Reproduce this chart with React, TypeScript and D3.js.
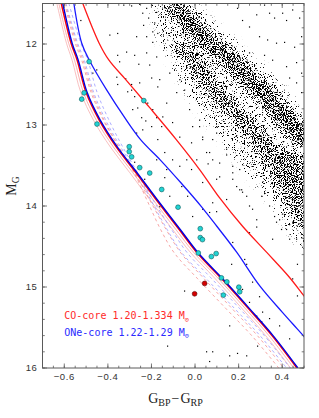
import React from 'react';
import * as d3 from 'd3';

const WIDTH = 319;
const HEIGHT = 418;
const plot = { left: 42.5, right: 304, top: 3.5, bottom: 368 };

// axes
const xTicks = [-0.6, -0.4, -0.2, 0, 0.2, 0.4];
const xTickLabels = ['−0.6', '−0.4', '−0.2', '0.0', '0.2', '0.4'];
const yTicks = [12, 13, 14, 15, 16];

const bandMag = [11.5, 11.75, 12.0, 12.25, 12.5, 12.75, 13.0, 13.25, 13.5, 13.75, 14.0, 14.25, 14.5];
const bandLeft = [-0.21, -0.185, -0.158, -0.107, -0.057, -0.002, 0.067, 0.14, 0.209, 0.283, 0.36, 0.42, 0.48];
const bandRight = [0.0, 0.09, 0.2, 0.3, 0.39, 0.47, 0.55, 0.55, 0.55, 0.55, 0.55, 0.55, 0.55];

const ridgeAMag = [11.5, 11.75, 12.0, 12.25, 12.5, 12.75, 13.0, 13.25];
const ridgeALeft = [-0.165, -0.08, 0.02, 0.122, 0.215, 0.305, 0.383, 0.46];
const ridgeARight = [-0.045, 0.04, 0.14, 0.242, 0.335, 0.425, 0.503, 0.58];

const ridgeBMag = [12.0, 12.25, 12.5, 12.75, 13.0, 13.25, 13.5, 13.75, 14.0, 14.25];
const ridgeBLeft = [-0.1, -0.042, 0.017, 0.1, 0.185, 0.27, 0.32, 0.37, 0.43, 0.47];
const ridgeBRight = [-0.005, 0.058, 0.117, 0.2, 0.285, 0.37, 0.58, 0.58, 0.58, 0.58];

// scattered field objects [G_BP-G_RP, M_G]
const fieldStars: [number, number][] = [
  [-0.327, 11.52], [-0.291, 11.53], [-0.254, 11.51], [-0.222, 11.56], [-0.199, 11.52], [-0.176, 11.61],
  [-0.24, 11.62], [-0.213, 11.68], [-0.185, 11.74], [-0.236, 11.77], [-0.194, 11.85], [-0.171, 11.87],
  [-0.222, 11.91], [-0.194, 11.98], [-0.268, 11.91], [-0.391, 11.89], [-0.355, 11.87], [-0.314, 12.1],
  [-0.355, 12.14], [-0.346, 12.22], [-0.277, 12.14], [-0.222, 12.11], [-0.176, 12.16], [-0.451, 12.32],
  [-0.469, 12.36], [-0.359, 12.41], [-0.318, 12.43], [-0.355, 12.5], [-0.291, 12.5], [-0.254, 12.48],
  [-0.199, 12.42], [-0.171, 12.53], [-0.309, 12.59], [-0.277, 12.65], [-0.217, 12.73], [-0.194, 12.81],
  [-0.263, 12.79], [-0.286, 12.81], [-0.245, 12.91], [-0.176, 12.91], [-0.199, 13.02], [-0.524, 11.71],
  [-0.258, 12.25], [-0.208, 12.26], [-0.162, 12.44], [-0.291, 12.57], [-0.226, 12.95], [-0.171, 13.18],
  [-0.148, 12.9], [-0.13, 12.73], [-0.084, 12.6], [-0.07, 12.44], [-0.116, 12.36], [-0.048, 12.57],
  [-0.153, 13.02], [-0.103, 12.97], [-0.07, 13.15], [-0.24, 13.06], [-0.268, 13.1], [-0.314, 13.43],
  [-0.176, 13.43], [-0.139, 13.34], [-0.103, 13.43], [-0.13, 13.55], [-0.07, 13.51], [-0.016, 13.55],
  [0.008, 13.43], [0.053, 13.34], [0.081, 13.43], [-0.016, 13.22], [0.035, 13.18], [0.081, 13.18],
  [0.099, 13.02], [0.021, 13.02], [-0.011, 13.02], [-0.277, 13.46], [-0.231, 13.67], [-0.139, 13.65],
  [-0.061, 13.76], [-0.034, 13.88], [0.035, 13.71], [0.113, 13.64], [0.081, 13.96], [0.035, 14.04],
  [-0.011, 14.13], [-0.116, 13.88], [-0.162, 14.01], [0.195, 11.56], [0.218, 11.71], [0.25, 11.79],
  [0.283, 11.64], [0.319, 11.52], [0.342, 11.62], [0.365, 11.68], [0.402, 11.62], [0.42, 11.71],
  [0.448, 11.58], [0.48, 11.68], [0.296, 11.91], [0.333, 11.95], [0.374, 11.99], [0.411, 11.98],
  [0.457, 12.04], [0.489, 11.91], [0.25, 12.11], [0.319, 12.14], [0.356, 12.2], [0.42, 12.28],
  [0.466, 12.23], [0.489, 12.36], [0.434, 12.42], [0.466, 12.48], [0.489, 12.6], [-0.025, 12.81],
  [0.021, 12.94], [0.035, 13.15], [0.099, 13.1], [0.145, 13.3], [-0.038, 13.43], [0.06, 13.48],
  [0.173, 13.51], [0.099, 13.67], [0.191, 13.76], [0.218, 13.83], [0.145, 13.92], [0.25, 14.0],
  [0.205, 13.8], [0.283, 14.17], [0.25, 14.33], [0.113, 13.47], [0.067, 13.34], [0.145, 13.37],
  [0.173, 13.59], [0.205, 13.55], [0.214, 13.8], [0.237, 13.88], [0.173, 13.67], [0.264, 14.04],
  [0.342, 14.0], [0.306, 13.88], [0.365, 14.13], [0.388, 14.17], [0.42, 14.29], [0.448, 14.2],
  [0.47, 14.25], [0.489, 14.39], [0.434, 14.41], [0.356, 14.41], [0.402, 14.1], [0.466, 14.04],
  [0.283, 14.26], [0.067, 14.08], [0.099, 14.07], [0.173, 14.45], [0.237, 14.72], [0.228, 14.66],
  [0.264, 14.94], [0.31, 15.31], [0.306, 15.43], [0.342, 15.39], [0.283, 15.36], [0.374, 14.2],
  [0.397, 14.29], [0.434, 14.23], [0.466, 14.41], [0.448, 14.9], [0.47, 15.11], [0.388, 15.48],
  [0.434, 15.64], [0.053, 15.8], [0.081, 15.8], [0.067, 15.92], [0.159, 15.85], [0.195, 15.82],
  [0.287, 15.73], [0.237, 15.85], [-0.048, 15.05], [-0.126, 15.73], [0.159, 15.48], [0.25, 15.19],
  [0.47, 14.72], [0.218, 15.03], [0.168, 14.72], [0.296, 15.12],
];

// ultramassive candidates
const cyanStars: [number, number][] = [
  [-0.486, 12.218], [-0.509, 12.603], [-0.52, 12.681], [-0.45, 12.988], [-0.235, 12.699],
  [-0.302, 13.268], [-0.302, 13.329], [-0.291, 13.393], [-0.254, 13.526], [-0.208, 13.593],
  [-0.153, 13.796], [-0.078, 14.015], [0.024, 14.28], [0.024, 14.39], [0.034, 14.415],
  [0.015, 14.58], [0.075, 14.624], [0.097, 14.587], [0.121, 14.887], [0.146, 14.937],
  [0.13, 15.1], [0.201, 15.002], [0.205, 15.059],
];
const redStars: [number, number][] = [[0.044, 14.956], [-0.002, 15.084]];

// cooling tracks
const co120Mag = [11.5, 11.99, 12.2, 12.44, 12.78, 13.18, 13.55, 13.9, 14.25, 14.57, 14.87, 15.11, 15.3];
const co120Color = [-0.515, -0.44, -0.395, -0.318, -0.21, -0.086, 0.021, 0.113, 0.218, 0.328, 0.43, 0.5, 0.555];
const one122Mag = [11.5, 11.99, 12.2, 12.57, 12.9, 13.18, 13.43, 13.71, 14.01, 14.25, 14.57, 14.99, 15.31, 15.52, 15.7];
const one122Color = [-0.556, -0.52, -0.485, -0.405, -0.325, -0.25, -0.16, -0.066, 0.03, 0.1, 0.191, 0.298, 0.4, 0.47, 0.53];

const heavyMag = [11.5, 11.99, 12.2, 12.6, 12.94, 13.27, 13.59, 13.92, 14.29, 14.58, 14.89, 15.27, 15.6, 16.0];
const one129Color = [-0.607, -0.564, -0.536, -0.495, -0.435, -0.357, -0.266, -0.174, -0.068, 0.015, 0.124, 0.251, 0.358, 0.472];
const co1334Color = [-0.614, -0.569, -0.541, -0.5, -0.44, -0.362, -0.271, -0.179, -0.073, 0.01, 0.119, 0.246, 0.353, 0.467];
const coThinA = [-0.625, -0.58, -0.553, -0.512, -0.453, -0.375, -0.285, -0.193, -0.088, -0.004, 0.105, 0.232, 0.339, 0.453];
const coThinB = [-0.634, -0.59, -0.564, -0.524, -0.466, -0.389, -0.299, -0.208, -0.103, -0.019, 0.09, 0.217, 0.324, 0.438];
const oneDashA = [-0.592, -0.539, -0.508, -0.465, -0.41, -0.342, -0.266, -0.194, -0.108, -0.035, 0.074, 0.206, 0.318, 0.437];
const oneDashB = [-0.579, -0.524, -0.492, -0.449, -0.395, -0.332, -0.264, -0.204, -0.128, -0.06, 0.049, 0.183, 0.298, 0.42];
const coDashA = [-0.599, -0.55, -0.52, -0.477, -0.421, -0.351, -0.276, -0.209, -0.133, -0.065, 0.039, 0.171, 0.286, 0.407];
const coDashB = [-0.595, -0.544, -0.514, -0.471, -0.417, -0.349, -0.28, -0.222, -0.158, -0.095, 0.009, 0.143, 0.26, 0.384];

export default function App() {
  const x = d3.scaleLinear().domain([-0.7, 0.5]).range([plot.left, plot.right]);
  const y = d3.scaleLinear().domain([11.5, 16]).range([plot.top, plot.bottom]);

  const track = (colors: number[], mags: number[]) =>
    d3.line<number>()
      .x(i => x(colors[i]))
      .y(i => y(mags[i]))
      .curve(d3.curveCatmullRom.alpha(0.5))(d3.range(colors.length)) || '';

  const band = (mags: number[], left: number[], right: number[]) =>
    d3.area<number>()
      .y(i => y(mags[i]))
      .x0(i => x(left[i]))
      .x1(i => x(right[i]))
      .curve(d3.curveCatmullRom)(d3.range(mags.length)) || '';

  const xMinor = d3.range(-0.7, 0.5001, 0.05);
  const yMinor = d3.range(11.6, 16.0001, 0.2);
  const frame = '#5a5a5a';
  const tickFont = { fontFamily: 'Liberation Sans, Arial, sans-serif', fontSize: 9.5, letterSpacing: 0.6, fill: '#333' };

  return (
    <svg width={WIDTH} height={HEIGHT} style={{ position: 'absolute', left: 0, top: 0, background: '#fff' }}>
      <defs>
        <clipPath id="plotArea">
          <rect x={plot.left} y={plot.top} width={plot.right - plot.left} height={plot.bottom - plot.top} />
        </clipPath>
        {/* density shading rendered as a grain so the sequence reads as a cloud of points */}
        <filter id="grain" filterUnits="userSpaceOnUse" x={plot.left} y={plot.top}
          width={plot.right - plot.left} height={plot.bottom - plot.top} colorInterpolationFilters="sRGB">
          <feGaussianBlur in="SourceAlpha" stdDeviation="3.5" result="dens" />
          <feTurbulence type="fractalNoise" baseFrequency="0.9" numOctaves="2" seed="4" result="noise" />
          <feColorMatrix in="noise" type="matrix"
            values="0 0 0 0 0  0 0 0 0 0  0 0 0 0 0  2.2 0 0 0 -0.6" result="thr" />
          <feComposite in="dens" in2="thr" operator="arithmetic" k1="0" k2="8" k3="-8" k4="0" result="mask" />
          <feFlood floodColor="#000" result="ink" />
          <feComposite in="ink" in2="mask" operator="in" />
        </filter>
      </defs>

      <g clipPath="url(#plotArea)">
        <g filter="url(#grain)">
          <path d={band(bandMag, bandLeft, bandRight)} fill="#000" fillOpacity={0.26} />
          <path d={band(ridgeAMag, ridgeALeft, ridgeARight)} fill="#000" fillOpacity={0.44} />
          <path d={band(ridgeBMag, ridgeBLeft, ridgeBRight)} fill="#000" fillOpacity={0.36} />
        </g>
        {fieldStars.map(([c, m], i) => (
          <rect key={i} x={x(c) - 0.6} y={y(m) - 0.6} width={1.2} height={1.2} fill="#000" />
        ))}

        <path d={track(coThinB, heavyMag)} fill="none" stroke="#f6b0b0" strokeWidth={0.8} />
        <path d={track(coThinA, heavyMag)} fill="none" stroke="#f6a0a0" strokeWidth={0.8} />
        <path d={track(coDashA, heavyMag)} fill="none" stroke="#f49090" strokeWidth={0.8} strokeDasharray="3,3" />
        <path d={track(coDashB, heavyMag)} fill="none" stroke="#f49090" strokeWidth={0.8} strokeDasharray="3,3" />
        <path d={track(oneDashA, heavyMag)} fill="none" stroke="#9a9aff" strokeWidth={0.8} strokeDasharray="3,3" />
        <path d={track(oneDashB, heavyMag)} fill="none" stroke="#9a9aff" strokeWidth={0.8} strokeDasharray="3,3" />
        <path d={track(co120Color, co120Mag)} fill="none" stroke="#ff1a1a" strokeWidth={1.3} />
        <path d={track(one122Color, one122Mag)} fill="none" stroke="#1a1aff" strokeWidth={1.3} />
        <path d={track(co1334Color, heavyMag)} fill="none" stroke="#ff0000" strokeWidth={1.4} />
        <path d={track(one129Color, heavyMag)} fill="none" stroke="#0000e0" strokeWidth={1.4} />

        {cyanStars.map(([c, m], i) => (
          <circle key={i} cx={x(c)} cy={y(m)} r={2.4} fill="#22d3d3" stroke="#0a5a5a" strokeWidth={0.6} />
        ))}
        {redStars.map(([c, m], i) => (
          <circle key={i} cx={x(c)} cy={y(m)} r={2.4} fill="#d40000" stroke="#5a0000" strokeWidth={0.6} />
        ))}
      </g>

      <text x={x(-0.6)} y={y(15.4)} fill="#ff2a2a" fontFamily="DejaVu Sans Mono, monospace" fontSize={10}>
        CO-core 1.20-1.334 M<tspan fontSize={7} dy={2.5}>⊙</tspan>
      </text>
      <text x={x(-0.6)} y={y(15.6)} fill="#2a2aff" fontFamily="DejaVu Sans Mono, monospace" fontSize={10}>
        ONe-core 1.22-1.29 M<tspan fontSize={7} dy={2.5}>⊙</tspan>
      </text>

      <rect x={plot.left} y={plot.top} width={plot.right - plot.left} height={plot.bottom - plot.top}
        fill="none" stroke={frame} strokeWidth={1} />

      {xMinor.map((v, i) => (
        <g key={'xm' + i} stroke={frame} strokeWidth={0.8}>
          <line x1={x(v)} x2={x(v)} y1={plot.bottom} y2={plot.bottom - 2.3} />
          <line x1={x(v)} x2={x(v)} y1={plot.top} y2={plot.top + 2.3} />
        </g>
      ))}
      {xTicks.map((v, i) => (
        <g key={'x' + i}>
          <line x1={x(v)} x2={x(v)} y1={plot.bottom} y2={plot.bottom - 4.5} stroke={frame} strokeWidth={0.8} />
          <line x1={x(v)} x2={x(v)} y1={plot.top} y2={plot.top + 4.5} stroke={frame} strokeWidth={0.8} />
          <text x={x(v)} y={plot.bottom + 12} textAnchor="middle" {...tickFont}>{xTickLabels[i]}</text>
        </g>
      ))}
      {yMinor.map((v, i) => (
        <g key={'ym' + i} stroke={frame} strokeWidth={0.8}>
          <line x1={plot.left} x2={plot.left + 2.3} y1={y(v)} y2={y(v)} />
          <line x1={plot.right} x2={plot.right - 2.3} y1={y(v)} y2={y(v)} />
        </g>
      ))}
      {yTicks.map((v, i) => (
        <g key={'y' + i}>
          <line x1={plot.left} x2={plot.left + 4.5} y1={y(v)} y2={y(v)} stroke={frame} strokeWidth={0.8} />
          <line x1={plot.right} x2={plot.right - 4.5} y1={y(v)} y2={y(v)} stroke={frame} strokeWidth={0.8} />
          <text x={37.5} y={y(v) + 3.4} textAnchor="end" {...tickFont}>{v}</text>
        </g>
      ))}

      <text x={175.5} y={403} textAnchor="middle" fontFamily="Liberation Serif, serif" fontSize={14} fill="#222">
        G<tspan fontSize={10} dy={3}>BP</tspan><tspan dy={-3} dx={1}>−</tspan><tspan dx={1}>G</tspan><tspan fontSize={10} dy={3}>RP</tspan>
      </text>
      <text transform="translate(15.5,186) rotate(-90)" textAnchor="middle" fontFamily="Liberation Serif, serif" fontSize={14} fill="#222">
        M<tspan fontSize={9.5} dy={3}>G</tspan>
      </text>
    </svg>
  );
}
